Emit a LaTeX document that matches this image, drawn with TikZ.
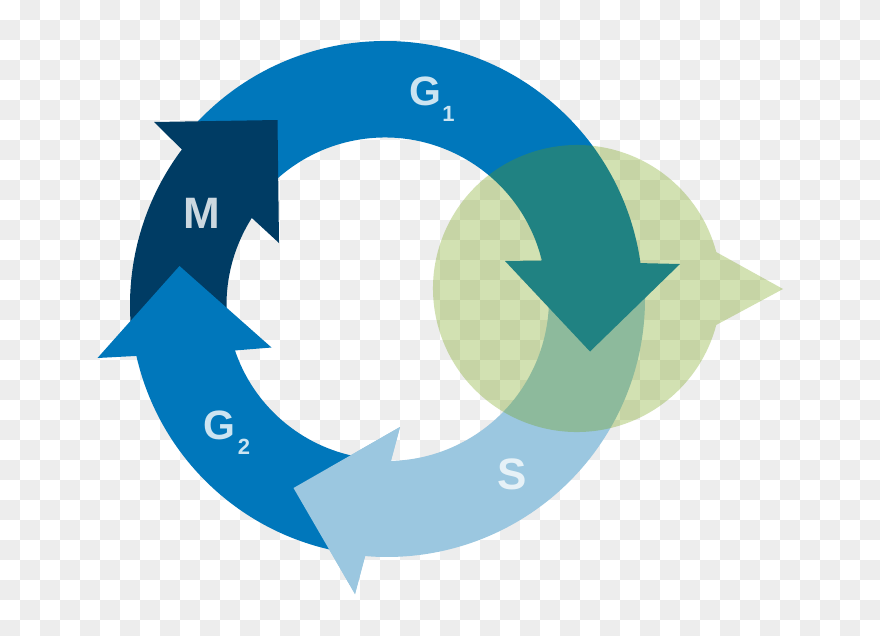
\documentclass[tikz,border=0pt]{standalone}
\usepackage{fontspec}
\setmainfont{Liberation Sans}

\definecolor{checkgray}{RGB}{237,237,237}
\definecolor{blueone}{RGB}{0,119,187}
\definecolor{navy}{RGB}{0,60,100}
\definecolor{skyblue}{RGB}{155,199,224}
\definecolor{leafgreen}{RGB}{109,156,0}

\begin{document}
\begin{tikzpicture}[x=1pt,y=1pt]
    \tikzstyle{stage label}=[font=\bfseries\fontsize{44}{44}\selectfont,inner sep=0pt]
    \tikzstyle{gap label}=[font=\bfseries\fontsize{41}{41}\selectfont,inner sep=0pt]
    \tikzstyle{gap index}=[font=\bfseries\fontsize{22}{22}\selectfont,inner sep=0pt]

    \useasboundingbox (0,0) rectangle (880,-635);

    % Draw the checker background
    \fill[white] (0,0) rectangle (880,-635);
    \foreach \i in {0,...,43}
        \foreach \j in {0,...,31} {
            \ifodd\numexpr\i+\j\relax
                \fill[checkgray] (20*\i,-20*\j) rectangle (20*\i+20,-20*\j-20);
            \fi
        }

    % Head corners of the arrows
    \coordinate (M-left) at (154,-122);
    \coordinate (M-top) at (277.5,-120);
    \coordinate (M-right) at (279,-243);
    \coordinate (G1-left) at (505,-261);
    \coordinate (G1-tip) at (590,-351.5);
    \coordinate (G1-right) at (680,-264);
    \coordinate (S-top) at (400,-427);
    \coordinate (S-left) at (293.5,-488);
    \coordinate (S-tip) at (355,-594);
    \coordinate (G2-right) at (271.5,-347.5);
    \coordinate (G2-apex) at (179.5,-266);
    \coordinate (G2-left) at (97.5,-358);

    % Draw the synthesis arrow
    \begin{scope}[shift={(387,-299)}]
        \fill[skyblue] (3:258) arc[start angle=3,end angle=-94.9,radius=258]
            -- (S-tip) -- (S-left) -- (S-top)
            -- (-88.6:162) arc[start angle=-88.6,end angle=3,radius=162] -- cycle;
    \end{scope}

    % Draw the first gap arrow
    \begin{scope}[shift={(385,-299)}]
        \fill[blueone] (140:258) arc[start angle=140,end angle=8,radius=258]
            -- (G1-right) -- (G1-tip) -- (G1-left)
            -- (13.8:161.5) arc[start angle=13.8,end angle=140,radius=161.5] -- cycle;
    \end{scope}

    % Draw the mitosis arrow
    \begin{scope}[shift={(389,-305)}]
        \fill[navy] (190:259) arc[start angle=190,end angle=143.1,radius=259]
            -- (M-left) -- (M-top) -- (M-right)
            -- (147.6:162.5) arc[start angle=147.6,end angle=190,radius=162.5] -- cycle;
    \end{scope}

    % Draw the second gap arrow
    \begin{scope}[shift={(387,-299)}]
        \fill[blueone] (260:257) arc[start angle=260,end angle=192.8,radius=257]
            -- (G2-left) -- (G2-apex) -- (G2-right)
            -- (198.7:160.5) arc[start angle=198.7,end angle=260,radius=160.5] -- cycle;
    \end{scope}

    % The synthesis head lies over the tail of the second gap
    \fill[skyblue] (S-tip) -- (S-left) -- (S-top) -- cycle;

    % Draw the see-through callout
    \fill[leafgreen,opacity=.3] (577,-288.5) ++(14.7:144 and 143.5)
        arc[start angle=14.7,end angle=345.3,x radius=144,y radius=143.5]
        -- (783,-289) -- cycle;

    % Annotate the stages
    \node[gap label,text=blueone!20] (G1) at (425.7,-91) {G};
    \node[gap index,text=blueone!20] (G1-index) at (448.5,-114) {1};
    \node[stage label,text=navy!20] (M) at (201.5,-213.5) {M};
    \node[gap label,text=blueone!20] (G2) at (219,-425) {G};
    \node[gap index,text=blueone!20] (G2-index) at (244,-447) {2};
    \node[stage label,text=skyblue!25] (S) at (512,-474) {S};
\end{tikzpicture}
\end{document}
